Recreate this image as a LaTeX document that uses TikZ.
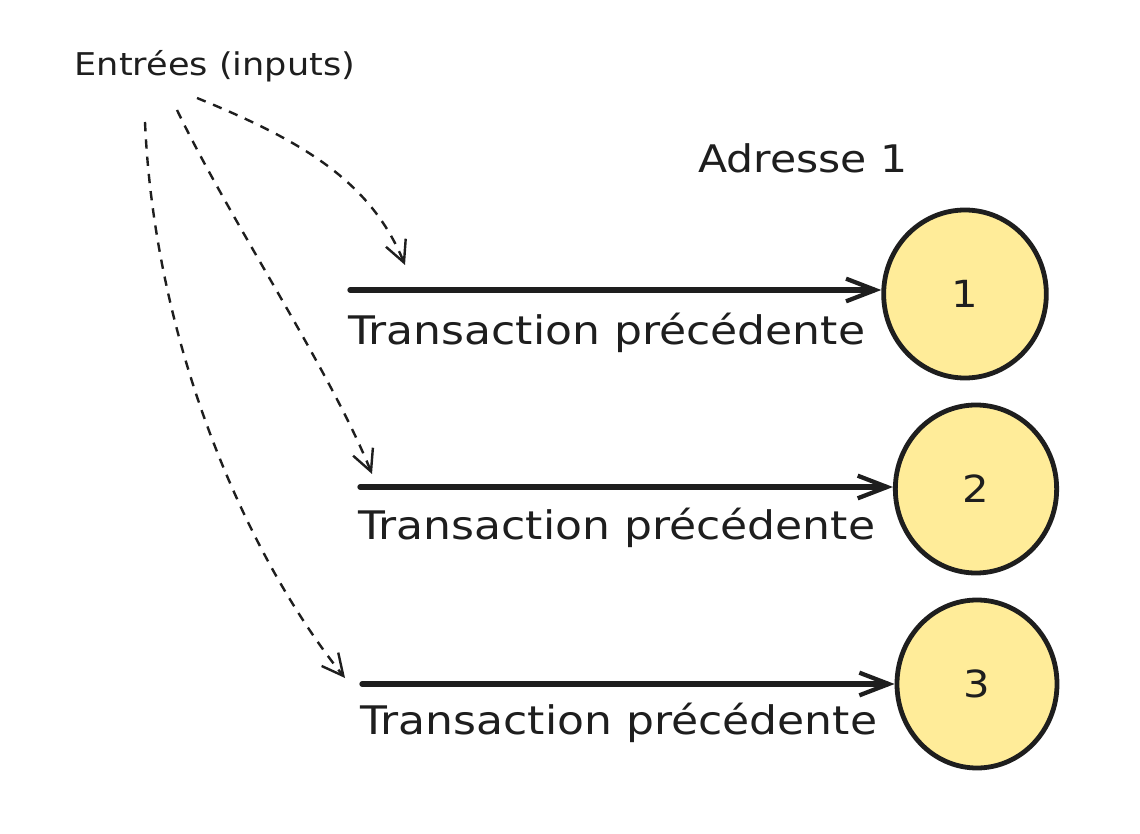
\documentclass[tikz,border=0pt]{standalone}
\usepackage{fontspec}
\setmainfont[FakeStretch=1.12]{DejaVu Sans}
\usetikzlibrary{arrows.meta,shapes.geometric}
\definecolor{ink}{HTML}{1E1E1E}
\definecolor{coin}{HTML}{FFEC99}
\tikzset{
  coinnode/.style={ellipse,draw=ink,fill=coin,line width=3.6pt,minimum width=#1,minimum height=126pt,inner sep=0pt,font=\fontsize{28}{30}\selectfont,text=ink},
  txarrow/.style={draw=ink,line width=4pt,line cap=round,-{Straight Barb[length=22pt,width=17pt,line width=3.2pt]}},
  inputarrow/.style={draw=ink,line width=1.8pt,dash pattern=on 7pt off 6pt,-{Straight Barb[length=16pt,width=16pt,line width=1.8pt]}},
  txlabel/.style={anchor=west,inner sep=0pt,text=ink,font=\fontsize{29.5}{34}\selectfont},
}
\begin{document}
\begin{tikzpicture}[x=0.75pt,y=-0.75pt]
\useasboundingbox[fill=white] (0,0) rectangle (1140,834);
% title texts
\node[inner sep=0pt,text=ink,font=\fontsize{23.5}{28}\selectfont] (inputs) at (215,66) {Entrées (inputs)};
\node[inner sep=0pt,text=ink,font=\fontsize{28.5}{32}\selectfont] (addr) at (803,158) {Adresse 1};
% coins
\node[coinnode=122pt] (c1) at (965,294) {1};
\node[coinnode=121pt] (c2) at (976,489) {2};
\node[coinnode=120pt] (c3) at (977,684) {3};
% transaction arrows
\coordinate (s1) at (350,290);
\coordinate (s2) at (360,487);
\coordinate (s3) at (362,684);
\draw[txarrow] (s1) -- (c1.west |- s1);
\draw[txarrow] (s2) -- (c2.west |- s2);
\draw[txarrow] (s3) -- (c3.west |- s3);
% labels
\node[txlabel] (t1) at (348,333) {Transaction précédente};
\node[txlabel] (t2) at (358,528) {Transaction précédente};
\node[txlabel] (t3) at (360,723) {Transaction précédente};
% input dashed arrows
\coordinate (d1s) at (197,98);
\coordinate (d2s) at (177,110);
\coordinate (d3s) at (145,122);
\coordinate (d1e) at (405,265);
\coordinate (d2e) at (372,474);
\coordinate (d3e) at (345,678);
\draw[inputarrow] (d1s) .. controls (300,140) and (370,180) .. (d1e);
\draw[inputarrow] (d2s) .. controls (230,220) and (330,370) .. (d2e);
\draw[inputarrow] (d3s) .. controls (155,350) and (250,560) .. (d3e);
\end{tikzpicture}
\end{document}
